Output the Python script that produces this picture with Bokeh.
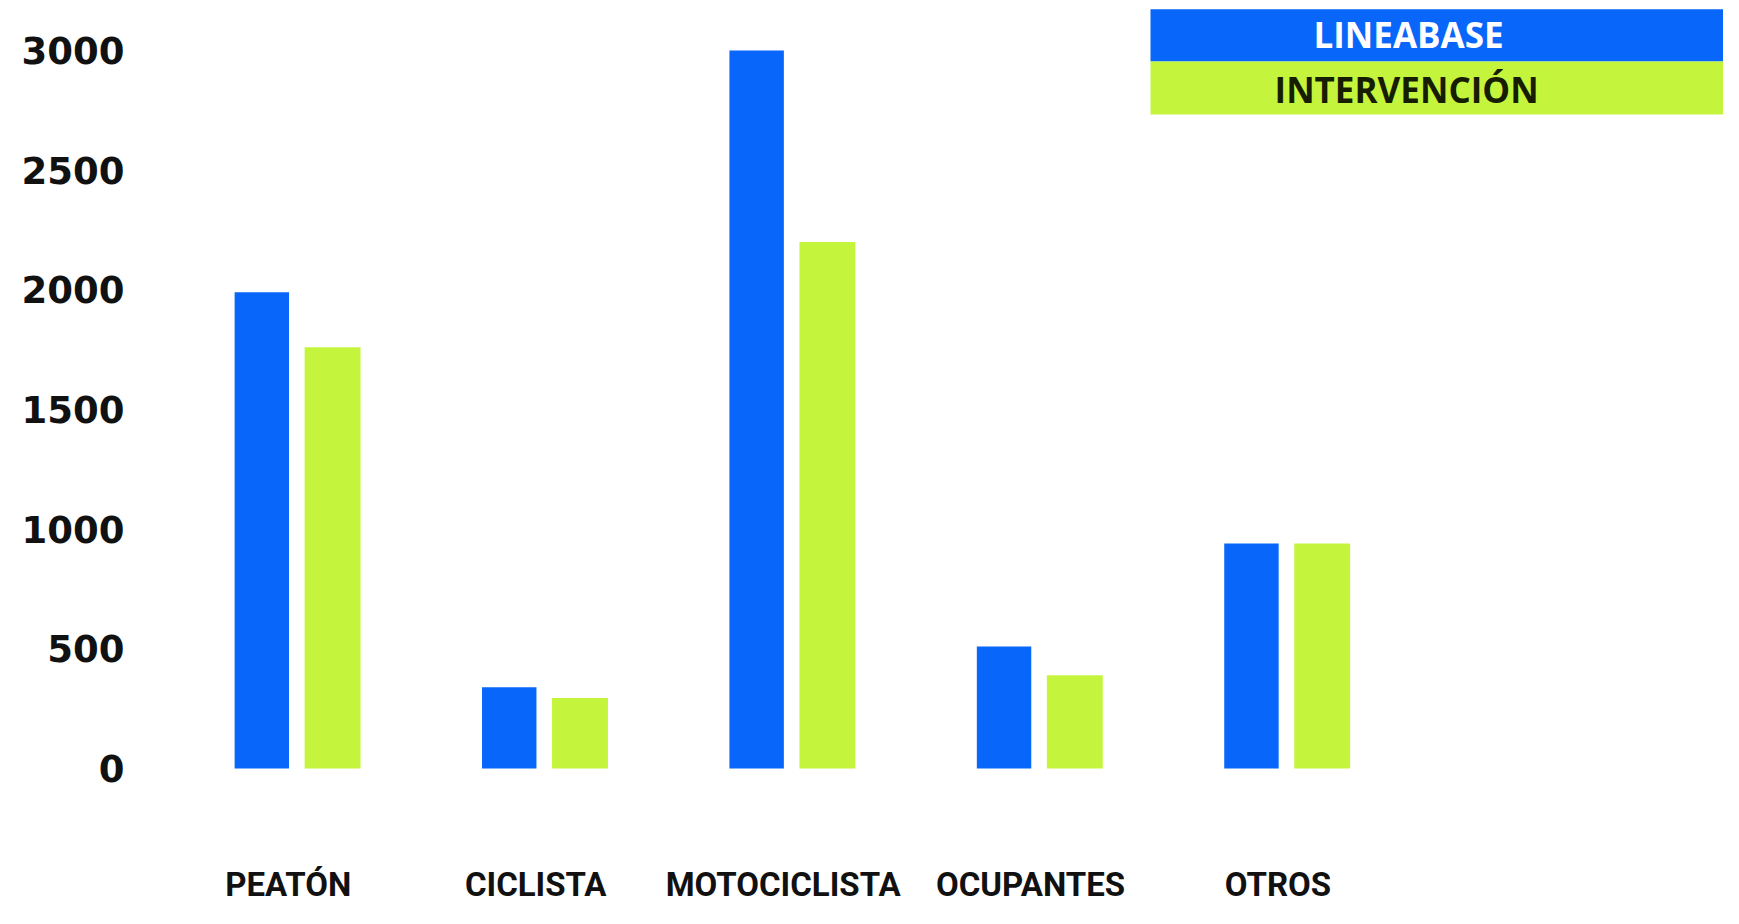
from bokeh.plotting import figure
from bokeh.models import Range1d, FixedTicker, BoxAnnotation, Label, ColumnDataSource
from bokeh.transform import dodge
from bokeh.embed import file_html
from bokeh.resources import INLINE

# ---- data ----
categories = ["PEATÓN", "CICLISTA", "MOTOCICLISTA", "OCUPANTES", "OTROS"]
lineabase = [1990, 340, 3000, 510, 940]
intervencion = [1760, 295, 2200, 390, 940]
y_ticks = [0, 500, 1000, 1500, 2000, 2500, 3000]
series_names = ["LINEABASE", "INTERVENCIÓN"]

BLUE = "#0866fa"
GREEN = "#c4f53c"

src = ColumnDataSource(data=dict(
    idx=list(range(len(categories))),
    cat=categories,
    lineabase=lineabase,
    intervencion=intervencion,
))

X0, X1 = -0.557, 5.801
Y0, Y1 = -351, 3209

p = figure(
    width=1723, height=908,
    x_range=Range1d(X0, X1),
    y_range=Range1d(Y0, Y1),
    output_backend="svg", toolbar_location=None,
    min_border_left=150, min_border_right=0, min_border_top=0, min_border_bottom=56,
)
p.background_fill_color = "white"
p.border_fill_color = "white"
p.outline_line_color = None
p.xgrid.visible = False
p.ygrid.visible = False

p.vbar(x=dodge("idx", -0.107, range=p.x_range), top="lineabase", width=0.22,
       source=src, fill_color=BLUE, line_color=None)
p.vbar(x=dodge("idx", 0.179, range=p.x_range), top="intervencion", width=0.226,
       source=src, fill_color=GREEN, line_color=None)

# axes
p.xaxis.ticker = FixedTicker(ticks=list(range(len(categories))))
p.xaxis.major_label_overrides = {i: c for i, c in enumerate(categories)}
p.xaxis.major_label_text_font = "Roboto"
p.xaxis.major_label_text_font_style = "bold"
p.xaxis.major_label_text_font_size = "33px"
p.xaxis.major_label_text_color = "#111111"
p.xaxis.major_label_standoff = 6

p.yaxis.ticker = FixedTicker(ticks=y_ticks)
p.yaxis.major_label_overrides = {t: str(t) for t in y_ticks}
p.yaxis.major_label_text_font = "DejaVu Sans"
p.yaxis.major_label_text_font_style = "bold"
p.yaxis.major_label_text_font_size = "37px"
p.yaxis.major_label_text_color = "#111111"
p.yaxis.major_label_standoff = 20

for ax in (p.xaxis, p.yaxis):
    ax.axis_line_color = None
    ax.major_tick_line_color = None
    ax.minor_tick_line_color = None

# legend (custom colour bands)
LX = 3.485
p.add_layout(BoxAnnotation(left=LX, right=X1, bottom=2954, top=3172,
                           fill_color=BLUE, fill_alpha=1, line_color=None))
p.add_layout(BoxAnnotation(left=LX, right=X1, bottom=2733, top=2954,
                           fill_color=GREEN, fill_alpha=1, line_color=None))
p.add_layout(Label(x=4.528, y=3067, text=series_names[0], text_align="center",
                   text_baseline="middle", text_font="Open Sans", text_font_style="bold",
                   text_font_size="35px", text_color="white"))
p.add_layout(Label(x=4.520, y=2837, text=series_names[1], text_align="center",
                   text_baseline="middle", text_font="Open Sans", text_font_style="bold",
                   text_font_size="35px", text_color="#161d00"))

open("out.html", "w").write(file_html(p, INLINE))
